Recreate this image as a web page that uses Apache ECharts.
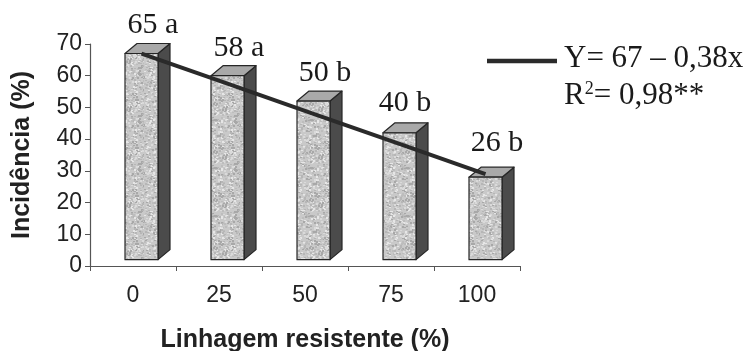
<!DOCTYPE html>
<html><head><meta charset="utf-8">
<style>html,body{margin:0;padding:0;background:#fff}#c{width:749px;height:351px}</style>
<script src="https://cdn.jsdelivr.net/npm/echarts@6/dist/echarts.min.js"></script>
</head><body><div id="c"></div>
<script>
const categories = ['0','25','50','75','100'];
const incidence = [65,58,50,40,26];
const groups = ['a','a','b','b','b'];
const regression = [67,57.5,48,38.5,29];
const yTicks = [0,10,20,30,40,50,60,70];
const barBase = 2;

function speckle(){
  const s=48,c=document.createElement('canvas');c.width=c.height=s;
  const g=c.getContext('2d');g.fillStyle='#c9c9c9';g.fillRect(0,0,s,s);
  const shades=['#a8a8a8','#b6b6b6','#dadada','#e6e6e6','#bdbdbd'];
  let h=7;
  for(let i=0;i<520;i++){
    h=(h*137+61)%2039;
    const x=h%s; h=(h*137+61)%2039;
    const y=h%s; h=(h*137+61)%2039;
    g.fillStyle=shades[h%5];g.fillRect(x,y,2,1+h%2);
  }
  return c;
}
const tile=speckle();
const chart=echarts.init(document.getElementById('c'),null,{renderer:'canvas'});
const serif='"Liberation Serif","Times New Roman",serif';
const sans='"Liberation Sans",Arial,sans-serif';
const W=33,DX=12,DY=10,SHIFT=8.5;
function labelOffset(i){
  if(i===3) return [14,-15];
  if(i===4) return [20,-19];
  return [20,-13];
}
function barItem(p,api){
  const i=api.value(0),v=api.value(1);
  const top=api.coord([i,v+barBase]),base=api.coord([i,barBase]);
  const l=top[0]+SHIFT-W/2,r=l+W,t=top[1],b=base[1];
  const edge={stroke:'#262626',lineWidth:1.2,lineJoin:'round'};
  const off=labelOffset(i);
  return {type:'group',children:[
    {type:'polygon',shape:{points:[[r,t],[r+DX,t-DY],[r+DX,b-DY],[r,b]]},style:Object.assign({fill:'#4b4b4b'},edge)},
    {type:'polygon',shape:{points:[[l,t],[l+DX,t-DY],[r+DX,t-DY],[r,t]]},style:Object.assign({fill:'#a9a9a9'},edge)},
    {type:'rect',shape:{x:l,y:t,width:W,height:b-t},style:Object.assign({fill:{image:tile,repeat:'repeat'}},edge)},
    {type:'text',style:{x:top[0]+off[0],y:t+off[1],text:v+' '+groups[i],fill:'#1a1a1a',font:'30px '+serif,align:'center',verticalAlign:'bottom'}}
  ]};
}
chart.setOption({
  animation:false,
  backgroundColor:'#ffffff',
  grid:[{left:90,right:229,top:44,bottom:85,outerBoundsMode:'none'},{left:98.5,right:220.5,top:44,bottom:85,outerBoundsMode:'none'}],
  xAxis:[
    {type:'category',gridIndex:0,data:categories,boundaryGap:true,
     axisLine:{lineStyle:{color:'#555',width:1.2}},axisTick:{show:true,alignWithLabel:false,length:5,lineStyle:{color:'#555'}},
     axisLabel:{color:'#222',fontFamily:sans,fontSize:23,margin:18},
     name:'Linhagem resistente (%)',nameLocation:'middle',nameGap:62,
     nameTextStyle:{color:'#222',fontFamily:sans,fontWeight:'bold',fontSize:25}},
    {type:'category',gridIndex:1,data:categories,show:false}
  ],
  yAxis:[
    {type:'value',gridIndex:0,min:0,max:70,interval:10,
     axisLine:{show:true,lineStyle:{color:'#555',width:1.2}},axisTick:{show:true,length:5,lineStyle:{color:'#555'}},
     splitLine:{show:false},
     axisLabel:{color:'#222',fontFamily:sans,fontSize:23,margin:8,formatter:v=>yTicks.includes(v)?String(v):''},
     name:'Incidência (%)',nameLocation:'middle',nameGap:55,nameRotate:90,
     nameTextStyle:{color:'#222',fontFamily:sans,fontWeight:'bold',fontSize:25}},
    {type:'value',gridIndex:1,min:0,max:70,show:false}
  ],
  series:[
    {type:'custom',xAxisIndex:0,yAxisIndex:0,data:incidence.map((v,i)=>[i,v]),encode:{x:0,y:1},renderItem:barItem,clip:false,z:2},
    {type:'line',xAxisIndex:1,yAxisIndex:1,data:regression,showSymbol:false,symbol:'none',
     lineStyle:{color:'#2a2a2a',width:4},z:5}
  ],
  graphic:[
    {type:'line',shape:{x1:487,y1:61,x2:557,y2:61},style:{stroke:'#2a2a2a',lineWidth:4.5}},
    {type:'text',x:564,y:43,style:{text:'Y= 67 – 0,38x',fill:'#1a1a1a',font:'31px '+serif}},
    {type:'text',x:564,y:80,style:{text:'R{s|2}= 0,98**',fill:'#1a1a1a',font:'31px '+serif,
      rich:{s:{fontSize:18,fontFamily:serif,fill:'#1a1a1a',verticalAlign:'top',padding:[0,0,10,0]}}}}
  ]
});
</script></body></html>
